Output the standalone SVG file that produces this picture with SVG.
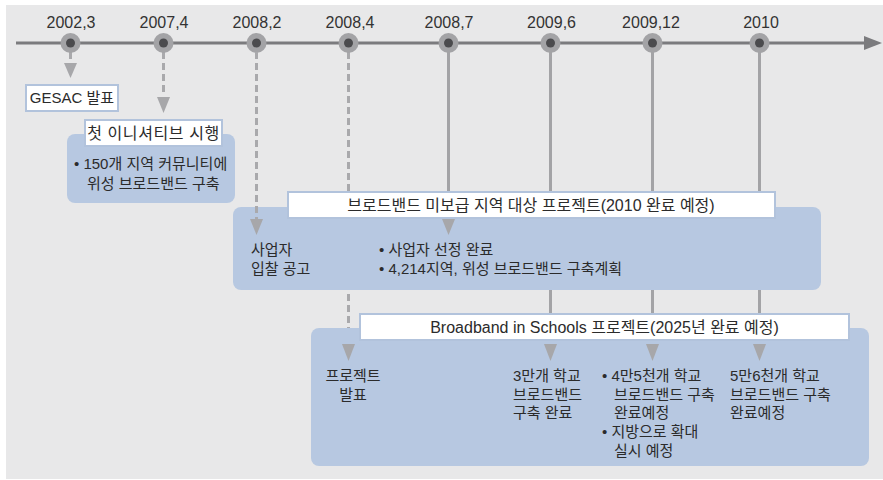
<svg xmlns="http://www.w3.org/2000/svg" width="883" height="480" viewBox="0 0 883 480">
<style>
text{font-family:"Liberation Sans","Noto Sans CJK KR",sans-serif;fill:#2b2b2b;font-size:15px}
.yr{font-size:16px;text-anchor:middle;fill:#333}
.lbl{font-size:16px;text-anchor:middle}
.g{font-size:15px}
.mid{text-anchor:middle}
.tag{fill:#ffffff;stroke:#b2c3dc;stroke-width:2}
.panel{fill:#b7c8e1}
.dash{stroke:#a9a9ac;stroke-width:3;stroke-dasharray:7 4;fill:none}
.solid{stroke:#a3a3a6;stroke-width:3;fill:none}
.ah{fill:#a7a7aa}
.outer{fill:#a3a3a6}
.inner{fill:#4b4b4e}
</style>
<rect x="6" y="5" width="877" height="474" fill="#e8e8e9"/>

<g id="connectors">
  <line x1="16" y1="43" x2="866" y2="43" stroke="#7b7b7e" stroke-width="3"/>
  <polygon points="864,36 882,43 864,50" fill="#7b7b7e"/>
  <line class="dash" x1="70.5" y1="52" x2="70.5" y2="62"/>
  <polygon class="ah" points="64,63 77,63 70.5,78"/>
  <line class="dash" x1="163.5" y1="52" x2="163.5" y2="96"/>
  <polygon class="ah" points="157,97 170,97 163.5,113"/>
  <line class="dash" x1="348.5" y1="52" x2="348.5" y2="343"/>
  <line class="solid" x1="448.5" y1="52" x2="448.5" y2="200"/>
  <line class="solid" x1="550.5" y1="52" x2="550.5" y2="320"/>
  <line class="solid" x1="652.5" y1="52" x2="652.5" y2="320"/>
  <line class="solid" x1="759.5" y1="52" x2="759.5" y2="320"/>
</g>

<g id="t2002-3"><circle class="outer" cx="70.5" cy="43" r="10"/><circle class="inner" cx="70.5" cy="43" r="4.5"/><text class="yr" x="71" y="28">2002,3</text></g>
<g id="t2007-4"><circle class="outer" cx="163.5" cy="43" r="10"/><circle class="inner" cx="163.5" cy="43" r="4.5"/><text class="yr" x="164" y="28">2007,4</text></g>
<g id="t2008-2"><circle class="outer" cx="256.5" cy="43" r="10"/><circle class="inner" cx="256.5" cy="43" r="4.5"/><text class="yr" x="257" y="28">2008,2</text></g>
<g id="t2008-4"><circle class="outer" cx="348.5" cy="43" r="10"/><circle class="inner" cx="348.5" cy="43" r="4.5"/><text class="yr" x="350" y="28">2008,4</text></g>
<g id="t2008-7"><circle class="outer" cx="448.5" cy="43" r="10"/><circle class="inner" cx="448.5" cy="43" r="4.5"/><text class="yr" x="449" y="28">2008,7</text></g>
<g id="t2009-6"><circle class="outer" cx="550.5" cy="43" r="10"/><circle class="inner" cx="550.5" cy="43" r="4.5"/><text class="yr" x="551.5" y="28">2009,6</text></g>
<g id="t2009-12"><circle class="outer" cx="652.5" cy="43" r="10"/><circle class="inner" cx="652.5" cy="43" r="4.5"/><text class="yr" x="651" y="28">2009,12</text></g>
<g id="t2010"><circle class="outer" cx="759.5" cy="43" r="10"/><circle class="inner" cx="759.5" cy="43" r="4.5"/><text class="yr" x="761" y="28">2010</text></g>

<g id="gesac">
  <rect class="tag" x="26" y="85" width="92" height="26"/>
  <text class="lbl g" x="72" y="103">GESAC 발표</text>
</g>

<g id="initiative">
  <rect class="panel" x="67" y="134" width="168" height="69" rx="8"/>
  <rect class="tag" x="85" y="120" width="137" height="26"/>
  <text class="lbl" x="153.5" y="139" letter-spacing="0.6">첫 이니셔티브 시행</text>
  <text x="74" y="169">• 150개 지역 커뮤니티에</text>
  <text x="87" y="189">위성 브로드밴드 구축</text>
</g>

<g id="unserved">
  <rect class="panel" x="233" y="207" width="588" height="83" rx="8"/>
  <line class="dash" x1="256.5" y1="52" x2="256.5" y2="219"/>
  <polygon class="ah" points="250,219 263,219 256.5,235"/>
  <rect class="tag" x="288" y="192" width="487" height="26"/>
  <polygon class="ah" points="442,219 455,219 448.5,235"/>
  <text class="lbl" x="531" y="211">브로드밴드 미보급 지역 대상 프로젝트(2010 완료 예정)</text>
  <text x="251" y="255">사업자</text>
  <text x="251" y="274">입찰 공고</text>
  <text x="379" y="255">• 사업자 선정 완료</text>
  <text x="379" y="274">• 4,214지역, 위성 브로드밴드 구축계획</text>
</g>

<g id="schools">
  <rect class="panel" x="311" y="328" width="558" height="138" rx="8"/>
  <rect class="tag" x="360" y="314" width="489" height="26"/>
  <polygon class="ah" points="342,344 355,344 348.5,361"/>
  <polygon class="ah" points="544,344 557,344 550.5,361"/>
  <polygon class="ah" points="646,344 659,344 652.5,361"/>
  <polygon class="ah" points="753,344 766,344 759.5,361"/>
  <text class="lbl" x="604.5" y="333">Broadband in Schools 프로젝트(2025년 완료 예정)</text>
  <text class="mid" x="353" y="381">프로젝트</text>
  <text class="mid" x="353" y="400">발표</text>
  <text x="513" y="381">3만개 학교</text>
  <text x="513" y="400">브로드밴드</text>
  <text x="513" y="418">구축 완료</text>
  <text x="602" y="381">• 4만5천개 학교</text>
  <text x="614" y="400">브로드밴드 구축</text>
  <text x="614" y="418">완료예정</text>
  <text x="602" y="437">• 지방으로 확대</text>
  <text x="614" y="456">실시 예정</text>
  <text x="730" y="381">5만6천개 학교</text>
  <text x="730" y="400">브로드밴드 구축</text>
  <text x="730" y="418">완료예정</text>
</g>
</svg>
